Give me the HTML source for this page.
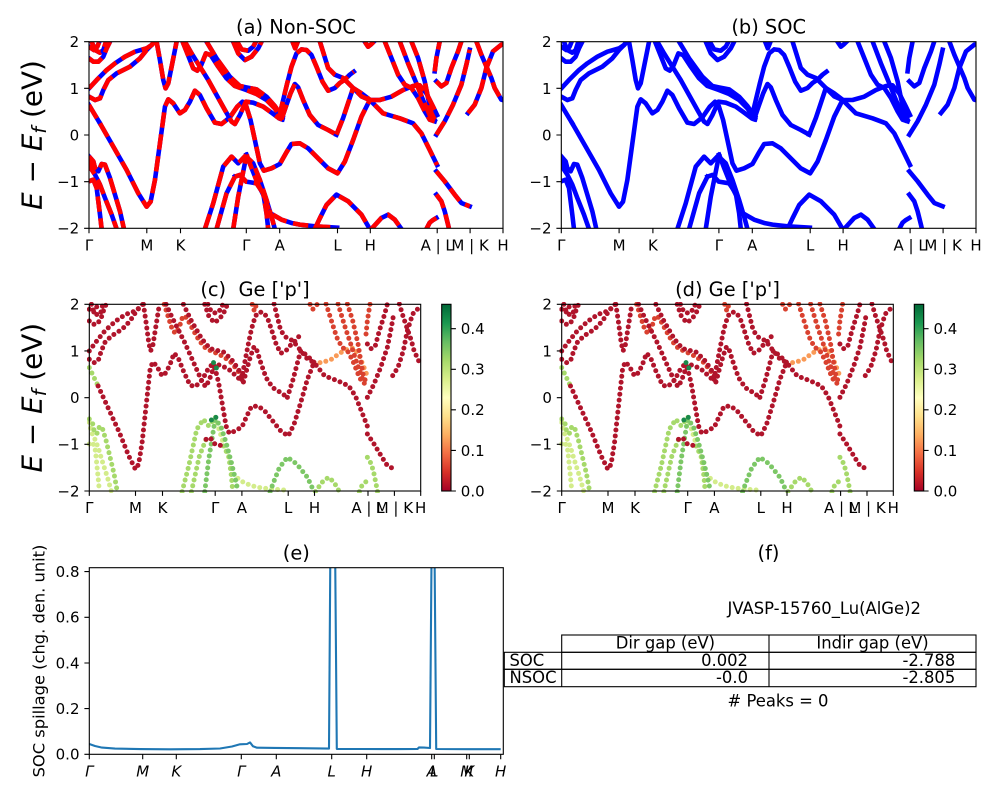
<!DOCTYPE html>
<html><head><meta charset="utf-8"><style>
html,body{margin:0;padding:0;background:#fff;}
svg{display:block;}
text{font-family:"DejaVu Sans","Liberation Sans",sans-serif;fill:#000;}
</style></head><body>
<svg width="1000" height="800" viewBox="0 0 1000 800" xmlns="http://www.w3.org/2000/svg">
<rect x="0" y="0" width="1000" height="800" fill="#fff"/>
<defs>
<linearGradient id="cmap" x1="0" y1="1" x2="0" y2="0">
<stop offset="0" stop-color="#a50026"/><stop offset="0.1" stop-color="#d73027"/><stop offset="0.2" stop-color="#f46d43"/><stop offset="0.3" stop-color="#fdae61"/><stop offset="0.4" stop-color="#fee08b"/><stop offset="0.5" stop-color="#ffffbf"/><stop offset="0.6" stop-color="#d9ef8b"/><stop offset="0.7" stop-color="#a6d96a"/><stop offset="0.8" stop-color="#66bd63"/><stop offset="0.9" stop-color="#1a9850"/><stop offset="1" stop-color="#006837"/>
</linearGradient>
<clipPath id="cA"><rect x="89" y="41.7" width="414" height="186.6"/></clipPath>
<clipPath id="cB"><rect x="561.3" y="41.7" width="414.7" height="186.6"/></clipPath>
<clipPath id="cC"><rect x="87" y="302" width="336" height="191"/></clipPath>
<clipPath id="cD"><rect x="559.4" y="302" width="336.2" height="191"/></clipPath>
<clipPath id="cE"><rect x="89.3" y="567.7" width="414" height="186.6"/></clipPath>
<g id="bR">
<path vector-effect="non-scaling-stroke" fill="none" d="M267,175 L280,185 295,185 310,170 320,145 330,125"/>
<path vector-effect="non-scaling-stroke" fill="none" d="M275,125 L285,150 300,158 310,150 318,125"/>
<path vector-effect="non-scaling-stroke" fill="none" d="M267,140 L282,150 292,140 298,125"/>
<path vector-effect="non-scaling-stroke" fill="none" d="M300,370 L340,440 380,510 415,580 440,620 452,605 465,540 480,430 495,320 505,298 520,310 540,340 555,330 570,305 585,272 600,285 620,325 645,368 665,372 690,352 712,320 728,305 739,318 752,360 765,420 780,490 792,512 815,505 840,492 858,460 875,432 900,430 925,445 955,475 985,505 1013,520 1035,485 1060,420 1085,350 1110,300"/>
<path vector-effect="non-scaling-stroke" fill="none" d="M267,290 L285,300 300,295 310,270 325,240 350,220 390,200 420,175 440,150 460,130 468,125"/>
<path vector-effect="non-scaling-stroke" fill="none" d="M267,265 L290,240 320,210 345,190 375,170 405,155 440,145 455,135 462,125"/>
<path vector-effect="non-scaling-stroke" fill="none" d="M470,125 L480,180 490,240 497,265 505,250 515,200 530,125"/>
<path vector-effect="non-scaling-stroke" fill="none" d="M555,125 L575,160 600,200 625,240 650,285 675,330 695,365 705,372 720,345 738,305 760,308 790,320 815,338 838,355 848,358"/>
<path vector-effect="non-scaling-stroke" fill="none" d="M620,125 L650,175 690,230 720,258 739,262 770,268 800,290 825,318 840,340"/>
<path vector-effect="non-scaling-stroke" fill="none" d="M700,125 L715,160 735,180 755,170 775,145 785,125"/>
<path vector-effect="non-scaling-stroke" fill="none" d="M712,125 L725,148 745,152 760,140 768,125"/>
<path vector-effect="non-scaling-stroke" fill="none" d="M838,350 L850,300 862,250 875,200 890,160 905,148 920,150 935,165 950,200 968,245 985,272 1005,264 1020,249 1035,239 1050,224 1062,215"/>
<path vector-effect="non-scaling-stroke" fill="none" d="M845,358 L858,320 872,280 885,252 895,262 910,300 930,345 955,375 985,390 1010,404"/>
<path vector-effect="non-scaling-stroke" fill="none" d="M1010,404 L1030,354 1050,294 1060,264 1085,280 1110,299"/>
<path vector-effect="non-scaling-stroke" fill="none" d="M960,124 L985,204 1005,224 1030,234 1060,264 1085,289 1110,300 1150,340 1200,355 1240,370 1265,400 1290,450 1312,495"/>
<path vector-effect="non-scaling-stroke" fill="none" d="M1310,244 L1325,259 1340,249 1355,204 1375,154 1385,124"/>
<path vector-effect="non-scaling-stroke" fill="none" d="M1310,404 L1335,364 1360,314 1385,254 1400,194 1410,149"/>
<path vector-effect="non-scaling-stroke" fill="none" d="M1430,124 L1445,164 1460,199 1475,234 1485,264 1505,299 1512,301"/>
<path vector-effect="non-scaling-stroke" fill="none" d="M1405,339 L1425,314 1445,264 1460,204 1480,154 1505,134 1512,132"/>
<path vector-effect="non-scaling-stroke" fill="none" d="M1310,514 L1335,544 1365,584 1385,609 1410,619"/>
<path vector-effect="non-scaling-stroke" fill="none" d="M705,530 L720,525 739,545 770,550"/>
</g>
<g id="bM">
<path vector-effect="non-scaling-stroke" fill="none" d="M548,125 L560,155 580,205 592,212 604,195 618,160 632,165 655,200 680,235 705,258 739,270 770,282 800,300 825,325 840,348 848,352"/>
<path vector-effect="non-scaling-stroke" fill="none" d="M1155,124 L1175,174 1195,224 1215,254 1235,264 1255,294 1275,334 1290,359 1305,364"/>
<path vector-effect="non-scaling-stroke" fill="none" d="M1235,124 L1255,174 1275,244 1285,294 1295,339 1305,359"/>
<path vector-effect="non-scaling-stroke" fill="none" d="M1200,124 L1225,190 1250,250 1270,300 1290,345 1300,360"/>
<path vector-effect="non-scaling-stroke" fill="none" d="M1305,214 L1310,174 1320,124"/>
<path vector-effect="non-scaling-stroke" fill="none" d="M878,125 L886,145 894,125"/>
<path vector-effect="non-scaling-stroke" fill="none" d="M1095,125 L1105,140 1115,132 1122,125"/>
</g>
<g id="bO">
<path vector-effect="non-scaling-stroke" fill="none" d="M1110,300 L1140,300 1175,290 1210,270 1240,258 1260,256 1280,280 1300,320 1312,345"/>
</g>
<g id="bGL">
<path vector-effect="non-scaling-stroke" fill="none" d="M740,464 L755,504 775,554 795,594 810,639 845,659 875,669 900,674 945,679 1012,683"/>
<path vector-effect="non-scaling-stroke" fill="none" d="M267,479 L275,509 285,524 300,554 315,594 335,644 350,687"/>
<path vector-effect="non-scaling-stroke" fill="none" d="M267,544 L280,539 290,564 295,604 300,644 305,687"/>
</g>
<g id="bG">
<path vector-effect="non-scaling-stroke" fill="none" d="M267,315 L285,345 300,370"/>
<path vector-effect="non-scaling-stroke" fill="none" d="M1115,687 L1145,654 1165,644 1185,659 1205,687"/>
<path vector-effect="non-scaling-stroke" fill="none" d="M267,469 L280,484 285,504 295,514 305,492 315,494 330,534 345,584 360,634 372,687"/>
<path vector-effect="non-scaling-stroke" fill="none" d="M615,687 L640,610 670,500 695,470 715,490 739,465"/>
<path vector-effect="non-scaling-stroke" fill="none" d="M650,687 L680,580 705,530"/>
<path vector-effect="non-scaling-stroke" fill="none" d="M770,550 L790,580 800,640 805,687"/>
<path vector-effect="non-scaling-stroke" fill="none" d="M1310,584 L1325,604 1335,634 1345,674 1348,687"/>
<path vector-effect="non-scaling-stroke" fill="none" d="M1280,687 L1290,668 1300,660 1310,654"/>
</g>
<g id="bG2">
<path vector-effect="non-scaling-stroke" fill="none" d="M945,687 L960,655 980,615 1010,584 1045,604 1085,644 1110,687"/>
<path vector-effect="non-scaling-stroke" fill="none" d="M700,687 L715,590 739,470 760,490 780,540 800,600 815,650 825,687"/>
</g>
<g id="bGD">
<path vector-effect="non-scaling-stroke" fill="none" d="M725,472 L739,462 752,472"/>
<path vector-effect="non-scaling-stroke" fill="none" d="M733,300 L745,318 750,330"/>
</g>
<g id="all"><use href="#bR"/><use href="#bM"/><use href="#bO"/><use href="#bGL"/><use href="#bG"/><use href="#bG2"/></g>
</defs>

<!-- Panel (a) -->
<g clip-path="url(#cA)">
<g transform="translate(89,41.7) scale(0.33307,0.33321) translate(-267,-125)">
<use href="#all" stroke="#0000ff" stroke-width="4.6" stroke-linejoin="round" stroke-linecap="square"/>
<use href="#all" stroke="#ff0000" stroke-width="4.6" stroke-linejoin="round" stroke-dasharray="15.4 6.7"/>
</g></g>
<rect x="89" y="41.7" width="414" height="186.6" fill="none" stroke="#000" stroke-width="1.1"/>
<g stroke="#000" stroke-width="1.1">
<path d="M84.1,41.7H89M84.1,88.35H89M84.1,135H89M84.1,181.65H89M84.1,228.3H89"/>
<path d="M89,228.3V233.2M146.8,228.3V233.2M180.5,228.3V233.2M246.3,228.3V233.2M279.7,228.3V233.2M337.5,228.3V233.2M370.3,228.3V233.2M437.2,228.3V233.2M470.1,228.3V233.2M503,228.3V233.2"/>
</g>
<g font-size="15" text-anchor="end">
<text x="79.2" y="47.1">2</text><text x="79.2" y="93.75">1</text><text x="79.2" y="140.4">0</text><text x="79.2" y="187.05">−1</text><text x="79.2" y="233.7">−2</text>
</g>
<g font-size="15" text-anchor="middle">
<text x="89" y="250.5">Γ</text><text x="146.8" y="250.5">M</text><text x="180.5" y="250.5">K</text><text x="246.3" y="250.5">Γ</text><text x="279.7" y="250.5">A</text><text x="337.5" y="250.5">L</text><text x="370.3" y="250.5">H</text><text x="437.2" y="250.5">A | L</text><text x="470.1" y="250.5">M | K</text><text x="503" y="250.5">H</text>
</g>
<text x="296" y="33.4" font-size="19.4" text-anchor="middle">(a) Non-SOC</text>
<text transform="translate(41.3,135) rotate(-90)" text-anchor="middle" font-size="27.8"><tspan font-style="italic">E</tspan> − <tspan font-style="italic">E</tspan><tspan font-style="italic" font-size="19.5" dy="4.5">f</tspan><tspan dy="-4.5"> (eV)</tspan></text>

<!-- Panel (b) -->
<g clip-path="url(#cB)">
<g transform="translate(561.3,41.7) scale(0.33363,0.33321) translate(-267,-125)">
<use href="#all" stroke="#0000ff" stroke-width="4.6" stroke-linejoin="round" stroke-linecap="square"/>
</g></g>
<rect x="561.3" y="41.7" width="414.7" height="186.6" fill="none" stroke="#000" stroke-width="1.1"/>
<g stroke="#000" stroke-width="1.1">
<path d="M556.4,41.7H561.3M556.4,88.35H561.3M556.4,135H561.3M556.4,181.65H561.3M556.4,228.3H561.3"/>
<path d="M561.3,228.3V233.2M619.1,228.3V233.2M652.9,228.3V233.2M718.9,228.3V233.2M752.3,228.3V233.2M810.2,228.3V233.2M843.1,228.3V233.2M910.1,228.3V233.2M943.1,228.3V233.2M976,228.3V233.2"/>
</g>
<g font-size="15" text-anchor="end">
<text x="551.5" y="47.1">2</text><text x="551.5" y="93.75">1</text><text x="551.5" y="140.4">0</text><text x="551.5" y="187.05">−1</text><text x="551.5" y="233.7">−2</text>
</g>
<g font-size="15" text-anchor="middle">
<text x="561.3" y="250.5">Γ</text><text x="619.1" y="250.5">M</text><text x="652.9" y="250.5">K</text><text x="718.9" y="250.5">Γ</text><text x="752.3" y="250.5">A</text><text x="810.2" y="250.5">L</text><text x="843.1" y="250.5">H</text><text x="910.1" y="250.5">A | L</text><text x="943.1" y="250.5">M | K</text><text x="976" y="250.5">H</text>
</g>
<text x="768.7" y="33.4" font-size="19.4" text-anchor="middle">(b) SOC</text>

<!-- Panel (c) -->
<g clip-path="url(#cC)">
<g transform="translate(89.3,304.3) scale(0.26661,0.33339) translate(-267,-125)" stroke-width="5" stroke-linecap="round" stroke-dasharray="0 6">
<use href="#bGL" stroke="#d3ec8a"/>
<use href="#bG" stroke="#a6d96a"/>
<use href="#bG2" stroke="#7cc766"/>
<use href="#bO" stroke="#f99a57"/>
<use href="#bM" stroke="#d9412f"/>
<use href="#bR" stroke="#b0142b"/>
<use href="#bGD" stroke="#1a8a4a"/>
</g></g>
<rect x="89.3" y="304.3" width="331.4" height="186.7" fill="none" stroke="#000" stroke-width="1.1"/>
<g stroke="#000" stroke-width="1.1">
<path d="M84.4,304.3H89.3M84.4,350.98H89.3M84.4,397.65H89.3M84.4,444.33H89.3M84.4,491H89.3"/>
<path d="M89.3,491V495.9M135.5,491V495.9M162.5,491V495.9M215.2,491V495.9M241.9,491V495.9M288.2,491V495.9M314.5,491V495.9M368,491V495.9M394.4,491V495.9M420.7,491V495.9"/>
</g>
<g font-size="15" text-anchor="end">
<text x="79.5" y="309.7">2</text><text x="79.5" y="356.4">1</text><text x="79.5" y="403.05">0</text><text x="79.5" y="449.7">−1</text><text x="79.5" y="496.4">−2</text>
</g>
<g font-size="15" text-anchor="middle">
<text x="89.3" y="513.2">Γ</text><text x="135.5" y="513.2">M</text><text x="162.5" y="513.2">K</text><text x="215.2" y="513.2">Γ</text><text x="241.9" y="513.2">A</text><text x="288.2" y="513.2">L</text><text x="314.5" y="513.2">H</text><text x="368" y="513.2">A | L</text><text x="394.4" y="513.2">M | K</text><text x="420.7" y="513.2">H</text>
</g>
<text x="255" y="296" font-size="19.4" text-anchor="middle" xml:space="preserve">(c)  Ge ['p']</text>
<text transform="translate(41.3,397.7) rotate(-90)" text-anchor="middle" font-size="27.8"><tspan font-style="italic">E</tspan> − <tspan font-style="italic">E</tspan><tspan font-style="italic" font-size="19.5" dy="4.5">f</tspan><tspan dy="-4.5"> (eV)</tspan></text>
<rect x="441.7" y="304.3" width="9.3" height="186.7" fill="url(#cmap)" stroke="#000" stroke-width="1.1"/>
<g stroke="#000" stroke-width="1.1"><path d="M451,491H455.9M451,450.4H455.9M451,409.8H455.9M451,369.3H455.9M451,328.7H455.9"/></g>
<g font-size="15">
<text x="460.8" y="496.4">0.0</text><text x="460.8" y="455.8">0.1</text><text x="460.8" y="415.2">0.2</text><text x="460.8" y="374.7">0.3</text><text x="460.8" y="334.1">0.4</text>
</g>

<!-- Panel (d) -->
<g clip-path="url(#cD)">
<g transform="translate(561.7,304.3) scale(0.26677,0.33339) translate(-267,-125)" stroke-width="5" stroke-linecap="round" stroke-dasharray="0 6">
<use href="#bGL" stroke="#d3ec8a"/>
<use href="#bG" stroke="#a6d96a"/>
<use href="#bG2" stroke="#7cc766"/>
<use href="#bO" stroke="#f99a57"/>
<use href="#bM" stroke="#d9412f"/>
<use href="#bR" stroke="#b0142b"/>
<use href="#bGD" stroke="#1a8a4a"/>
</g></g>
<rect x="561.7" y="304.3" width="331.6" height="186.7" fill="none" stroke="#000" stroke-width="1.1"/>
<g stroke="#000" stroke-width="1.1">
<path d="M556.8,304.3H561.7M556.8,350.98H561.7M556.8,397.65H561.7M556.8,444.33H561.7M556.8,491H561.7"/>
<path d="M561.7,491V495.9M608,491V495.9M635,491V495.9M687.7,491V495.9M714.4,491V495.9M760.8,491V495.9M787,491V495.9M840.6,491V495.9M867,491V495.9M893.3,491V495.9"/>
</g>
<g font-size="15" text-anchor="end">
<text x="551.9" y="309.7">2</text><text x="551.9" y="356.4">1</text><text x="551.9" y="403.05">0</text><text x="551.9" y="449.7">−1</text><text x="551.9" y="496.4">−2</text>
</g>
<g font-size="15" text-anchor="middle">
<text x="561.7" y="513.2">Γ</text><text x="608" y="513.2">M</text><text x="635" y="513.2">K</text><text x="687.7" y="513.2">Γ</text><text x="714.4" y="513.2">A</text><text x="760.8" y="513.2">L</text><text x="787" y="513.2">H</text><text x="840.6" y="513.2">A | L</text><text x="867" y="513.2">M | K</text><text x="893.3" y="513.2">H</text>
</g>
<text x="727.5" y="296" font-size="19.4" text-anchor="middle">(d) Ge ['p']</text>
<rect x="914.3" y="304.3" width="9.4" height="186.7" fill="url(#cmap)" stroke="#000" stroke-width="1.1"/>
<g stroke="#000" stroke-width="1.1"><path d="M923.7,491H928.6M923.7,450.4H928.6M923.7,409.8H928.6M923.7,369.3H928.6M923.7,328.7H928.6"/></g>
<g font-size="15">
<text x="933.5" y="496.4">0.0</text><text x="933.5" y="455.8">0.1</text><text x="933.5" y="415.2">0.2</text><text x="933.5" y="374.7">0.3</text><text x="933.5" y="334.1">0.4</text>
</g>

<!-- Panel (e) -->
<g clip-path="url(#cE)">
<path fill="none" stroke="#1f77b4" stroke-width="2.1" stroke-linejoin="round" d="M89.3,744 L95,746 L102,747.6 L115,748.6 L140,749.1 L170,749.3 L200,749.1 L220,748.5 L232,746.5 L240,744.3 L247,744 L250,742.4 L253,746.3 L257,747.7 L275,747.9 L300,748.2 L329,748.6 L330.3,560 L335.2,560 L336.8,748.9 L360,749 L400,749.1 L417.5,749 L419,747.4 L424,747.6 L430,748 L431.5,560 L434.6,560 L436.2,749 L470,749.2 L500.7,749.2"/>
</g>
<rect x="89.3" y="567.7" width="414" height="186.6" fill="none" stroke="#000" stroke-width="1.1"/>
<g stroke="#000" stroke-width="1.1">
<path d="M84.4,754.3H89.3M84.4,708.6H89.3M84.4,663H89.3M84.4,617.3H89.3M84.4,571.6H89.3"/>
<path d="M89.3,754.3V759.2M142.7,754.3V759.2M176.3,754.3V759.2M241.3,754.3V759.2M276.3,754.3V759.2M331.7,754.3V759.2M366.7,754.3V759.2M431.7,754.3V759.2M434.3,754.3V759.2M466.7,754.3V759.2M469.3,754.3V759.2M500.7,754.3V759.2"/>
</g>
<g font-size="15" text-anchor="end">
<text x="79.5" y="759.7">0.0</text><text x="79.5" y="714">0.2</text><text x="79.5" y="668.4">0.4</text><text x="79.5" y="622.7">0.6</text><text x="79.5" y="577">0.8</text>
</g>
<g font-size="15" text-anchor="middle" font-style="italic">
<text x="89.3" y="776.5">Γ</text><text x="142.7" y="776.5">M</text><text x="176.3" y="776.5">K</text><text x="241.3" y="776.5">Γ</text><text x="276.3" y="776.5">A</text><text x="331.7" y="776.5">L</text><text x="366.7" y="776.5">H</text><text x="431.7" y="776.5">A</text><text x="434.3" y="776.5">L</text><text x="466.7" y="776.5">M</text><text x="469.3" y="776.5">K</text><text x="500.7" y="776.5">H</text>
</g>
<text x="296.3" y="559.4" font-size="19.4" text-anchor="middle">(e)</text>
<text transform="translate(44.5,661) rotate(-90)" text-anchor="middle" font-size="16.3">SOC spillage (chg. den. unit)</text>

<!-- Panel (f) -->
<text x="768.5" y="559.4" font-size="19.4" text-anchor="middle">(f)</text>
<text x="824.2" y="614" font-size="16.4" text-anchor="middle">JVASP-15760_Lu(AlGe)2</text>
<g fill="none" stroke="#000" stroke-width="1.1">
<rect x="561.7" y="635" width="414.3" height="17.3"/>
<rect x="504.3" y="652.3" width="471.7" height="17"/>
<rect x="504.3" y="669.3" width="471.7" height="17.4"/>
<path d="M561.7,652.3V686.7M769,635V686.7"/>
</g>
<g font-size="16.4">
<text x="665.4" y="648.5" text-anchor="middle">Dir gap (eV)</text>
<text x="872.5" y="648.5" text-anchor="middle">Indir gap (eV)</text>
<text x="509.5" y="666">SOC</text>
<text x="748" y="666" text-anchor="end">0.002</text>
<text x="955.3" y="666" text-anchor="end">-2.788</text>
<text x="509.5" y="683">NSOC</text>
<text x="748" y="683" text-anchor="end">-0.0</text>
<text x="955.3" y="683" text-anchor="end">-2.805</text>
</g>
<text x="778" y="706.5" font-size="16.4" text-anchor="middle"># Peaks = 0</text>
</svg>
</body></html>
